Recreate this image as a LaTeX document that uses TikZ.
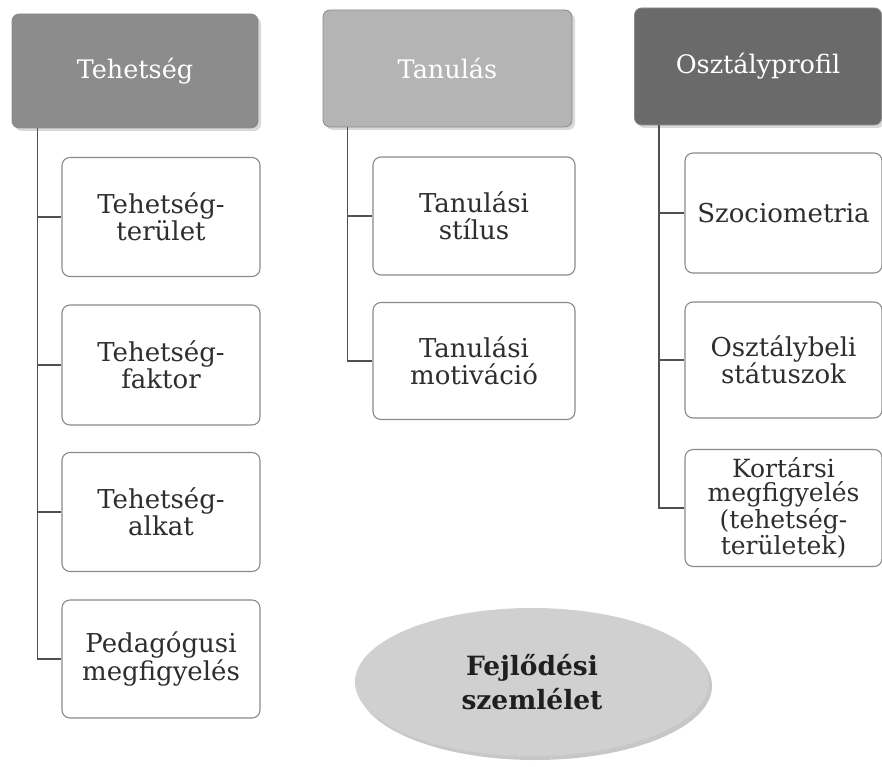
\documentclass[tikz,border=0pt]{standalone}
\usepackage{fontspec}
\setmainfont{DejaVu Serif}
\usetikzlibrary{shadows,calc,shapes.geometric}
\definecolor{hdA}{HTML}{8C8C8C}
\definecolor{hdB}{HTML}{B4B4B4}
\definecolor{hdC}{HTML}{6A6A6A}
\definecolor{boxline}{HTML}{8A8A8A}
\definecolor{trunk}{HTML}{505050}
\definecolor{txt}{HTML}{2E2E2E}
\definecolor{ellfill}{HTML}{D0D0D0}
\tikzset{
  hdr/.style={rounded corners=7pt, draw=black!45, line width=0.8pt, text=white,
    inner sep=0pt, align=center, font=\fontsize{25.5}{28}\selectfont,
    drop shadow={shadow xshift=3pt, shadow yshift=-3pt, fill=black!25, opacity=0.6}},
  child/.style={rounded corners=8pt, draw=boxline, line width=1.1pt, fill=white,
    text=txt, inner sep=0pt, align=center, font=\fontsize{26}{27.5}\selectfont,
    minimum width=198pt},
  conn/.style={draw=trunk, line width=1.4pt},
}
\begin{document}
\begin{tikzpicture}[x=1pt,y=-1pt]
\useasboundingbox (0,0) rectangle (882,767);
% headers
\node[hdr, fill=hdA, minimum width=246pt, minimum height=114pt] (th) at (135,71) {Tehetség};
\node[hdr, fill=hdB, minimum width=249pt, minimum height=117pt] (tn) at (447.5,68.5) {Tanulás};
\node[hdr, fill=hdC, minimum width=247pt, minimum height=117pt] (oz) at (758,66.5) {Osztályprofil};
% left column
\node[child, minimum height=119pt] (c1) at (161,217) {Tehetség-\\terület};
\node[child, minimum height=120pt] (c2) at (161,365) {Tehetség-\\faktor};
\node[child, minimum height=119pt] (c3) at (161,512) {Tehetség-\\alkat};
\node[child, minimum height=118pt] (c4) at (161,659) {Pedagógusi\\megfigyelés};
% middle column
\node[child, minimum width=202pt, minimum height=118pt] (m1) at (474,216) {Tanulási\\stílus};
\node[child, minimum width=202pt, minimum height=117pt] (m2) at (474,361) {Tanulási\\motiváció};
% right column
\node[child, minimum width=197pt, minimum height=120pt] (r1) at (783.5,213) {Szociometria};
\node[child, minimum width=197pt, minimum height=116pt] (r2) at (783.5,360) {Osztálybeli\\státuszok};
\node[child, minimum width=197pt, minimum height=117pt, font=\fontsize{25}{24}\selectfont] (r3) at (783.5,508) {Kortársi\\megfigyelés\\(tehetség-\\területek)};
% trunks
\coordinate (tA) at ($(th.south west)+(26,0)$);
\coordinate (tB) at ($(tn.south west)+(25,0)$);
\coordinate (tC) at ($(oz.south west)+(25,0)$);
\draw[conn] (tA) |- (c1.west);
\draw[conn] (tA) |- (c2.west);
\draw[conn] (tA) |- (c3.west);
\draw[conn] (tA) |- (c4.west);
\draw[conn] (tB) |- (m1.west);
\draw[conn] (tB) |- (m2.west);
\draw[conn] (tC) |- (r1.west);
\draw[conn] (tC) |- (r2.west);
\draw[conn] (tC) |- (r3.west);
% ellipse
\fill[black!22] (535,686) ellipse[x radius=177, y radius=74];
\node[ellipse, fill=ellfill, minimum width=354pt, minimum height=148pt, inner sep=0pt,
  text=black!88, align=center, font=\bfseries\fontsize{26.5}{34}\selectfont] (fs) at (532,682) {Fejlődési\\szemlélet};
\end{tikzpicture}
\end{document}
